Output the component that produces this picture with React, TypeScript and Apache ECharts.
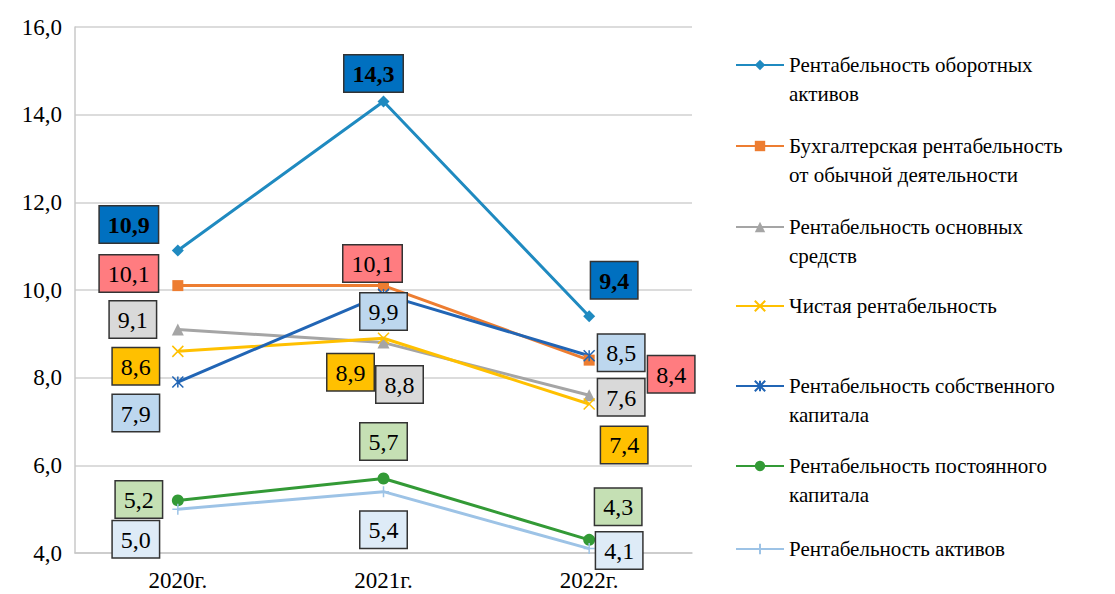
import React, { useEffect, useRef } from "react";
import * as echarts from "echarts";

const categories = ["2020г.", "2021г.", "2022г."];

const nameCurrentAssets = "Рентабельность оборотных активов";
const nameAccounting = "Бухгалтерская рентабельность от обычной деятельности";
const nameFixedAssets = "Рентабельность основных средств";
const nameNet = "Чистая рентабельность";
const nameEquity = "Рентабельность собственного капитала";
const namePermanent = "Рентабельность постоянного капитала";
const nameAssets = "Рентабельность активов";

const currentAssets = [10.9, 14.3, 9.4];
const accounting = [10.1, 10.1, 8.4];
const fixedAssets = [9.1, 8.8, 7.6];
const netProfitability = [8.6, 8.9, 7.4];
const equity = [7.9, 9.9, 8.5];
const permanentCapital = [5.2, 5.7, 4.3];
const totalAssets = [5.0, 5.4, 4.1];

const yTicks = { min: 4, max: 16, interval: 2 };

const FONT = "Liberation Serif";

const pathX = "path://M0,0L10,10M10,0L0,10";
const pathStar = "path://M5,0L5,10M0,0L10,10M10,0L0,10";
const pathPlus = "path://M5,0L5,10M0,5L10,5";

// styling per series (not data)
const styles = [
  { name: nameCurrentAssets, data: currentAssets, color: "#1F8AC0", symbol: "diamond", size: 12, stroke: false, bg: "#0070C0", bold: true,
    offsets: [[-49, -26], [-10, -28], [25, -36]], legendLines: ["Рентабельность оборотных", "активов"], legendY: 65 },
  { name: nameAccounting, data: accounting, color: "#ED7D31", symbol: "rect", size: 11, stroke: false, bg: "#FF7C80", bold: false,
    offsets: [[-49, -12], [-11, -22], [82, 14]], legendLines: ["Бухгалтерская рентабельность", "от обычной деятельности"], legendY: 146 },
  { name: nameFixedAssets, data: fixedAssets, color: "#A5A5A5", symbol: "triangle", size: 12, stroke: false, bg: "#D9D9D9", bold: false,
    offsets: [[-45, -10], [16, 42], [32, 2]], legendLines: ["Рентабельность основных", "средств"], legendY: 227 },
  { name: nameNet, data: netProfitability, color: "#FFC000", symbol: pathX, size: 11, stroke: true, bg: "#FFC000", bold: false,
    offsets: [[-42, 15], [-33, 34], [35, 41]], legendLines: ["Чистая рентабельность"], legendY: 306 },
  { name: nameEquity, data: equity, color: "#2165B5", symbol: pathStar, size: 11, stroke: true, bg: "#BDD7EE", bold: false,
    offsets: [[-42, 31], [0, 17], [32, -3]], legendLines: ["Рентабельность собственного", "капитала"], legendY: 386 },
  { name: namePermanent, data: permanentCapital, color: "#339A36", symbol: "circle", size: 12, stroke: false, bg: "#C5E0B4", bold: false,
    offsets: [[-39, -1], [0, -37], [29, -33]], legendLines: ["Рентабельность постоянного", "капитала"], legendY: 466 },
  { name: nameAssets, data: totalAssets, color: "#9DC3E6", symbol: pathPlus, size: 11, stroke: true, bg: "#DEEBF7", bold: false,
    offsets: [[-42, 30], [0, 38], [30, 2]], legendLines: ["Рентабельность активов"], legendY: 549 },
];

const fmt = (v: number) => v.toFixed(1).replace(".", ",");

export default function App() {
  const ref = useRef<HTMLDivElement>(null);
  useEffect(() => {
    if (!ref.current) return;
    const chart = echarts.init(ref.current, undefined, { renderer: "svg" });
    const LH = 29;
    const legends = styles.map((s) => {
      const multi = s.legendLines.length > 1;
      const lines = multi ? [" ", ...s.legendLines] : s.legendLines;
      const text = lines.map((l) => "{t|" + l + "}").join("\n");
      return {
        data: [s.name],
        orient: "vertical",
        left: 735,
        top: multi ? s.legendY - 1.5 * LH : s.legendY - 0.5 * LH,
        itemWidth: 48,
        itemHeight: 13,
        selectedMode: false,
        padding: 0,
        formatter: () => text,
        textStyle: {
          fontFamily: FONT,
          fontSize: 21,
          color: "#000",
          lineHeight: LH,
          rich: { t: { fontFamily: FONT, fontSize: 21, color: "#000", lineHeight: LH } },
        },
      };
    });
    const series = styles.map((s) => ({
      type: "line",
      name: s.name,
      symbol: s.symbol,
      symbolSize: s.size,
      color: s.color,
      lineStyle: { color: s.color, width: 3 },
      itemStyle: s.stroke
        ? { color: s.color, borderColor: s.color, borderWidth: 1.5 }
        : { color: s.color, borderWidth: 0 },
      data: s.data.map((v, i) => ({
        value: v,
        label: { offset: s.offsets[i] },
      })),
      label: {
        show: true,
        position: "inside",
        formatter: (p: any) => "{t|" + fmt(p.value) + "}",
        fontFamily: FONT,
        fontSize: 24,
        color: "#000",
        backgroundColor: s.bg,
        borderColor: "#333",
        borderWidth: 1.5,
        padding: [6, 8, 5, 8],
        lineHeight: 25,
        rich: {
          t: { fontFamily: FONT, fontSize: 24, lineHeight: 25, color: "#000", fontWeight: s.bold ? "bold" : "normal" },
        },
      },
      emphasis: { disabled: true },
    }));
    chart.setOption({
      animation: false,
      grid: { left: 75, right: 423, top: 27, bottom: 41 },
      legend: legends,
      xAxis: {
        type: "category",
        data: categories,
        boundaryGap: true,
        axisLine: { lineStyle: { color: "#C8C8C8", width: 1.5 } },
        axisTick: { show: false },
        axisLabel: {
          fontFamily: FONT,
          fontSize: 23,
          color: "#000",
          margin: 16,
          formatter: (v: string) => "{t|" + v + "}",
          rich: { t: { fontFamily: FONT, fontSize: 23, color: "#000" } },
        },
      },
      yAxis: {
        type: "value",
        min: yTicks.min,
        max: yTicks.max,
        interval: yTicks.interval,
        axisLine: { show: true, lineStyle: { color: "#C8C8C8", width: 1.5 } },
        axisTick: { show: false },
        splitLine: { lineStyle: { color: "#D0D0D0", width: 1.5 } },
        axisLabel: {
          fontFamily: FONT,
          fontSize: 23,
          color: "#000",
          margin: 13,
          formatter: (v: number) => "{t|" + fmt(v) + "}",
          rich: { t: { fontFamily: FONT, fontSize: 23, color: "#000" } },
        },
      },
      series,
    } as any);
    return () => chart.dispose();
  }, []);
  return (
    <div style={{ position: "absolute", left: 0, top: 0 }}>
      <div ref={ref} style={{ width: 1115, height: 594 }} />
    </div>
  );
}
